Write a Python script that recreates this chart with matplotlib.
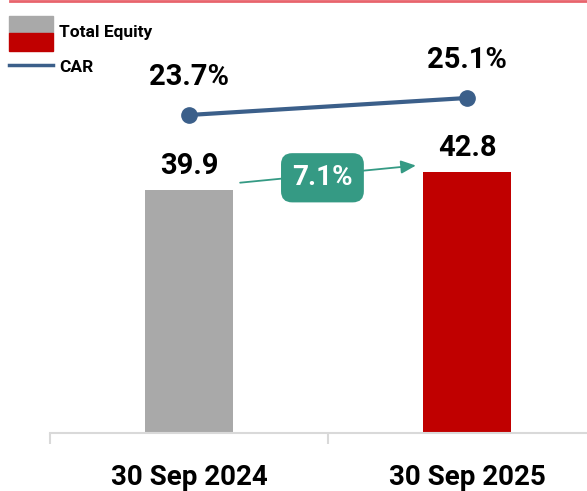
import matplotlib
matplotlib.use("Agg")
import matplotlib.pyplot as plt
from matplotlib.lines import Line2D
from matplotlib.patches import Rectangle

plt.rcParams['font.family'] = ['Roboto', 'DejaVu Sans']
plt.rcParams['font.weight'] = 'bold'

dates = ["30 Sep 2024", "30 Sep 2025"]
equity = [39.9, 42.8]
car = [23.7, 25.1]
growth = "7.1%"

bar_colors = ["#a9a9a9", "#c00000"]
line_color = "#3b5f8a"
teal = "#359a84"

fig = plt.figure(figsize=(5.87, 4.91), dpi=100)
ax = fig.add_axes([50 / 587, 58 / 491, 556 / 587, 433 / 491])
x = list(range(len(dates)))

ax.bar(x, equity, width=0.315, color=bar_colors, zorder=2)
ax.set_xlim(-0.5, 1.5)
ax.set_ylim(0, 71.0)

for spine in ["top", "right", "left"]:
    ax.spines[spine].set_visible(False)
ax.spines["bottom"].set_color("#d9d9d9")
ax.spines["bottom"].set_linewidth(1.5)
ax.set_yticks([])
ax.set_xticks(x)
ax.set_xticklabels(dates, fontsize=20, fontweight="bold")
ax.tick_params(axis="x", length=0, pad=22)
ax.set_xticks([-0.5, 0.5, 1.5], minor=True)
ax.tick_params(axis="x", which="minor", length=8, width=1.5, color="#d9d9d9", direction="out")

for xi, v in zip(x, equity):
    ax.annotate(f"{v:.1f}", (xi, v), xytext=(0, 17), textcoords="offset points",
                ha="center", va="center", fontsize=21, fontweight="bold")

ax2 = ax.twinx()
ax2.set_ylim(-2.49, 33.17)
ax2.axis("off")
ax2.plot(x, car, color=line_color, lw=3, marker="o", markersize=11, zorder=3)
for xi, v in zip(x, car):
    ax2.annotate(f"{v}%", (xi, v), xytext=(0, 27), textcoords="offset points",
                 ha="center", va="center", fontsize=21, fontweight="bold")

# growth arrow between the bars
ax.annotate("", xy=(0.826, equity[1] + 1.1), xytext=(0.174, equity[0] + 1.1),
            arrowprops=dict(arrowstyle="-|>,head_length=0.9,head_width=0.4",
                            color=teal, lw=1.3))
ax.text(0.48, (equity[0] + equity[1]) / 2 + 0.5, growth, ha="center", va="center",
        fontsize=20, fontweight="bold", color="white", zorder=5,
        bbox=dict(boxstyle="round,pad=0.4,rounding_size=0.4", fc=teal, ec="none"))

# legend
fig.add_artist(Rectangle((9 / 587, 1 - 33 / 491), 44 / 587, 17 / 491,
                         transform=fig.transFigure, color=bar_colors[0]))
fig.add_artist(Rectangle((9 / 587, 1 - 51 / 491), 44 / 587, 18 / 491,
                         transform=fig.transFigure, color=bar_colors[1]))
fig.text(59 / 587, 1 - 32 / 491, "Total Equity", fontsize=12.5, fontweight="bold", va="center")
fig.add_artist(Line2D([9 / 587, 53 / 587], [1 - 65 / 491, 1 - 65 / 491],
                      transform=fig.transFigure, color=line_color, lw=2.5))
fig.text(59 / 587, 1 - 67 / 491, "CAR", fontsize=12.5, fontweight="bold", va="center")

# red rule at top
fig.add_artist(Line2D([10 / 587, 1], [1 - 1 / 491, 1 - 1 / 491],
                      transform=fig.transFigure, color="#e8646c", lw=2))

fig.savefig("out.png", dpi=100)
